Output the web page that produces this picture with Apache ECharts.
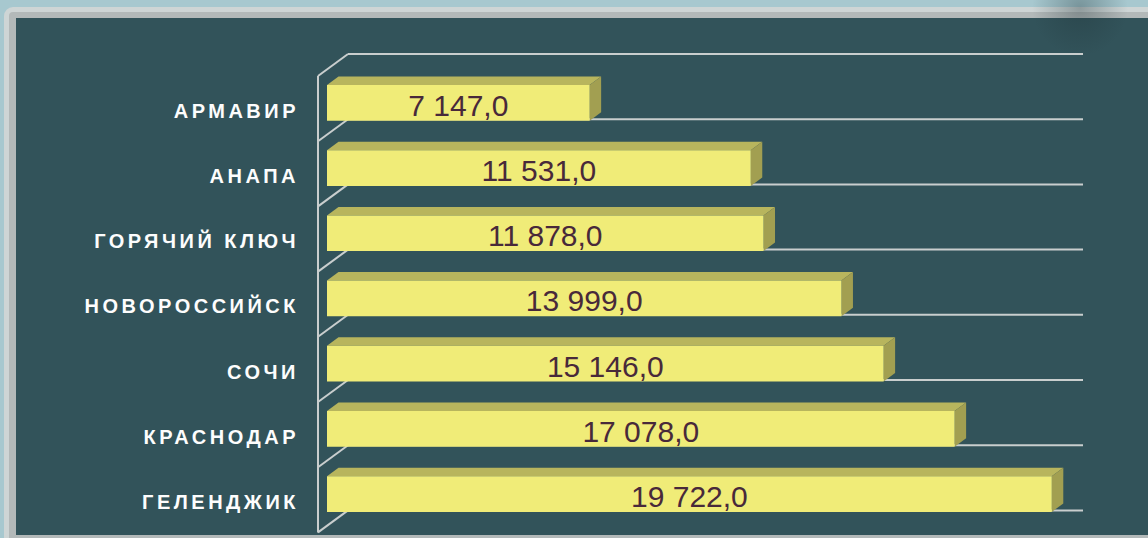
<!DOCTYPE html>
<html>
<head>
<meta charset="utf-8">
<script src="https://cdn.jsdelivr.net/npm/echarts@6/dist/echarts.min.js"></script>
<style>
  html, body { margin: 0; padding: 0; background: #a7c8cf; }
  #chart { width: 1148px; height: 538px; }
  text[fill="#fdfdfd"], text[fill="rgb(253,253,253)"] { letter-spacing: 3.5px; }
</style>
</head>
<body>
<div id="chart"></div>
<script>
const categories = ['АРМАВИР', 'АНАПА', 'ГОРЯЧИЙ КЛЮЧ', 'НОВОРОССИЙСК', 'СОЧИ', 'КРАСНОДАР', 'ГЕЛЕНДЖИК'];
const values = [7147, 11531, 11878, 13999, 15146, 17078, 19722];
const axisMin = 0;
const axisMax = 20000;
const wallLines = [0, 1, 2, 3, 4, 5, 6, 7];

function fmt(v) {
  const parts = v.toFixed(1).split('.');
  return parts[0].replace(/\B(?=(\d{3})+(?!\d))/g, ' ') + ',' + parts[1];
}

const chart = echarts.init(document.getElementById('chart'), null, { renderer: 'svg' });

const DX = 11.5, DY = 8.5;

chart.setOption({
  animation: false,
  backgroundColor: 'transparent',
  graphic: [
    { type: 'rect', z: -10, silent: true, shape: { x: 4, y: 7, width: 1170, height: 545, r: 9 }, style: { fill: '#ced5d5' } },
    { type: 'rect', z: -9, silent: true, shape: { x: 9, y: 12, width: 1160, height: 540, r: 4 }, style: { fill: '#b3b9b9' } },
    { type: 'rect', z: -8, silent: true, shape: { x: 16, y: 18, width: 1150, height: 517 }, style: { fill: '#32535a' } },
    { type: 'circle', z: -7, silent: true, shape: { cx: 1080, cy: 8, r: 48 },
      style: { fill: { type: 'radial', x: 0.5, y: 0.5, r: 0.5, colorStops: [
        { offset: 0, color: 'rgba(30,50,55,0.35)' }, { offset: 1, color: 'rgba(30,50,55,0)' }] } } }
  ],
  grid: { left: 327, width: 735, top: 78.2, height: 456.4, containLabel: false },
  xAxis: { type: 'value', min: axisMin, max: axisMax, show: false },
  yAxis: {
    type: 'category', inverse: true, data: categories,
    axisLine: { show: false }, axisTick: { show: false }, splitLine: { show: false },
    axisLabel: { color: '#fdfdfd', fontSize: 20, fontWeight: 'bold', fontFamily: 'Liberation Sans', margin: 28 }
  },
  series: [
    {
      type: 'custom', z: 1, silent: true,
      data: wallLines.map(j => [0, j]),
      renderItem: function (params, api) {
        const j = api.value(1);
        const band = api.size([0, 1])[1];
        const c0 = api.coord([axisMin, 0]);
        const xr = api.coord([axisMax, 0])[0];
        const y = c0[1] - 0.871 * band + band * j;
        const xl = c0[0] - 9, xb = c0[0] + 21, xe = xr + 21;
        const ls = { stroke: '#c9cece', lineWidth: 2 };
        const children = [
          { type: 'line', shape: { x1: xb, y1: y, x2: xe, y2: y }, style: ls },
          { type: 'line', shape: { x1: xl, y1: y + 22, x2: xb, y2: y }, style: ls }
        ];
        if (j === 0) {
          children.push({ type: 'line', shape: { x1: xl, y1: y + 22, x2: xl, y2: y + 22 + band * 7 }, style: ls });
        }
        return { type: 'group', children: children };
      }
    },
    {
      type: 'custom', z: 2,
      data: values.map((v, i) => [v, i]),
      renderItem: function (params, api) {
        const v = api.value(0), i = api.value(1);
        const band = api.size([0, 1])[1];
        const p0 = api.coord([axisMin, i]);
        const p1 = api.coord([v, i]);
        const cy = p0[1];
        const top = cy - 0.396 * band, bot = cy + 0.152 * band;
        const x0 = p0[0], x1 = p1[0];
        return {
          type: 'group',
          children: [
            { type: 'polygon', shape: { points: [[x0, top], [x0 + DX, top - DY], [x1 + DX, top - DY], [x1, top]] }, style: { fill: '#b8b55d' } },
            { type: 'polygon', shape: { points: [[x1, top], [x1 + DX, top - DY], [x1 + DX, bot - DY], [x1, bot]] }, style: { fill: '#a29f51' } },
            { type: 'rect', shape: { x: x0, y: top, width: x1 - x0, height: bot - top }, style: { fill: '#f0ec78' } },
            { type: 'text', style: { text: fmt(v), x: (x0 + x1) / 2, y: cy - 5.5, align: 'center', verticalAlign: 'middle',
              fontSize: 30, fontFamily: 'Liberation Sans', fill: '#48293a' } }
          ]
        };
      }
    }
  ]
});
</script>
</body>
</html>
